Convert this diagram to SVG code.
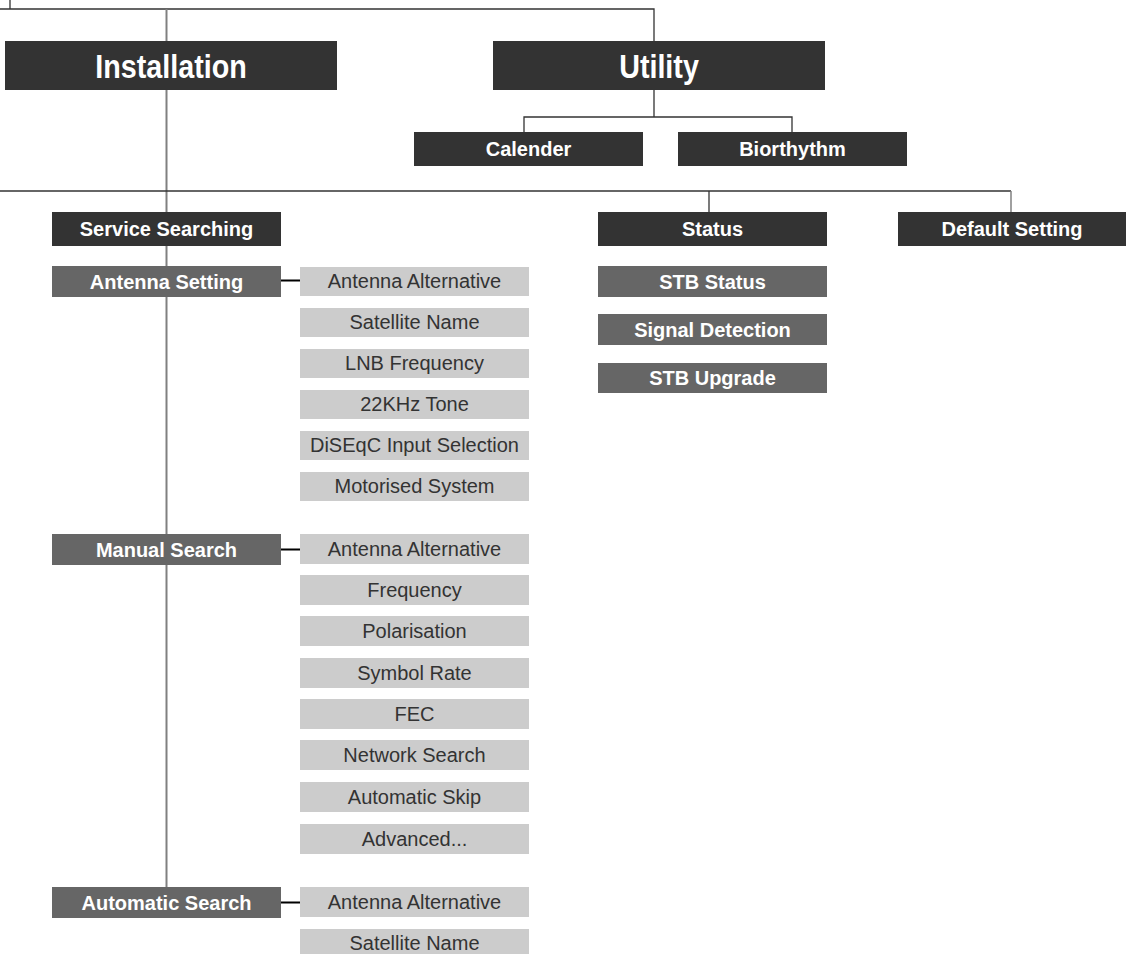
<svg xmlns="http://www.w3.org/2000/svg" width="1126" height="954" viewBox="0 0 1126 954">
<style>
.dk{fill:#333333}
.md{fill:#666666}
.lt{fill:#cccccc}
.hd{font-family:"Liberation Sans",Arial,sans-serif;font-weight:bold;font-size:33px;fill:#ffffff;text-anchor:middle}
.bt{font-family:"Liberation Sans",Arial,sans-serif;font-weight:bold;font-size:20px;fill:#ffffff;text-anchor:middle}
.rt{font-family:"Liberation Sans",Arial,sans-serif;font-size:20px;fill:#333333;text-anchor:middle}
.ln{fill:none;stroke:#333333;stroke-width:1.3}
.gl{fill:none;stroke:#808080;stroke-width:2}
.sc{fill:none;stroke:#000000;stroke-width:2}
</style>
<rect width="1126" height="954" fill="#ffffff"/>
<g id="connectors">
<path class="ln" d="M10,0 V9 M0,9 H654 V41"/>
<path class="gl" d="M166.5,9 V41"/>
<path class="gl" d="M166.5,90 V887"/>
<path class="ln" d="M654,90 V117 M524,132 V117 H792 V132"/>
<path class="ln" d="M0,191 H1011"/>
<path class="ln" d="M709,191 V212"/>
<path class="gl" d="M1011,191 V212" style="stroke-width:1.5"/>
<path class="sc" d="M281,280.5 H300 M281,549.5 H300 M281,902.5 H300"/>
</g>
<g id="installation"><rect class="dk" x="5" y="41" width="332" height="49"/><text class="hd" transform="translate(171,77.5) scale(0.87,1)">Installation</text></g>
<g id="utility"><rect class="dk" x="493" y="41" width="332" height="49"/><text class="hd" transform="translate(659,77.5) scale(0.87,1)">Utility</text></g>
<g id="calender"><rect class="dk" x="414" y="132" width="229" height="34"/><text class="bt" x="528.5" y="156">Calender</text></g>
<g id="biorthythm"><rect class="dk" x="678" y="132" width="229" height="34"/><text class="bt" x="792.5" y="156">Biorthythm</text></g>
<g id="service-searching"><rect class="dk" x="52" y="212" width="229" height="34"/><text class="bt" x="166.5" y="236">Service Searching</text></g>
<g id="status"><rect class="dk" x="598" y="212" width="229" height="34"/><text class="bt" x="712.5" y="236">Status</text></g>
<g id="default-setting"><rect class="dk" x="898" y="212" width="228" height="34"/><text class="bt" x="1012" y="236">Default Setting</text></g>
<g id="antenna-setting"><rect class="md" x="52" y="266" width="229" height="31"/><text class="bt" x="166.5" y="288.5">Antenna Setting</text></g>
<g id="manual-search"><rect class="md" x="52" y="534" width="229" height="31"/><text class="bt" x="166.5" y="556.5">Manual Search</text></g>
<g id="automatic-search"><rect class="md" x="52" y="887" width="229" height="31"/><text class="bt" x="166.5" y="909.5">Automatic Search</text></g>
<g id="stb-status"><rect class="md" x="598" y="266" width="229" height="31"/><text class="bt" x="712.5" y="288.5">STB Status</text></g>
<g id="signal-detection"><rect class="md" x="598" y="314" width="229" height="31"/><text class="bt" x="712.5" y="336.5">Signal Detection</text></g>
<g id="stb-upgrade"><rect class="md" x="598" y="363" width="229" height="30"/><text class="bt" x="712.5" y="385">STB Upgrade</text></g>
<g id="as-antenna-alternative"><rect class="lt" x="300" y="267" width="229" height="29"/><text class="rt" x="414.5" y="288">Antenna Alternative</text></g>
<g id="as-satellite-name"><rect class="lt" x="300" y="308" width="229" height="29"/><text class="rt" x="414.5" y="329">Satellite Name</text></g>
<g id="as-lnb-frequency"><rect class="lt" x="300" y="349" width="229" height="29"/><text class="rt" x="414.5" y="370">LNB Frequency</text></g>
<g id="as-22khz-tone"><rect class="lt" x="300" y="390" width="229" height="29"/><text class="rt" x="414.5" y="411">22KHz Tone</text></g>
<g id="as-diseqc"><rect class="lt" x="300" y="431" width="229" height="29"/><text class="rt" x="414.5" y="452">DiSEqC Input Selection</text></g>
<g id="as-motorised"><rect class="lt" x="300" y="472" width="229" height="29"/><text class="rt" x="414.5" y="493">Motorised System</text></g>
<g id="ms-antenna-alternative"><rect class="lt" x="300" y="534" width="229" height="30"/><text class="rt" x="414.5" y="556">Antenna Alternative</text></g>
<g id="ms-frequency"><rect class="lt" x="300" y="575" width="229" height="30"/><text class="rt" x="414.5" y="597">Frequency</text></g>
<g id="ms-polarisation"><rect class="lt" x="300" y="616" width="229" height="30"/><text class="rt" x="414.5" y="638">Polarisation</text></g>
<g id="ms-symbol-rate"><rect class="lt" x="300" y="658" width="229" height="30"/><text class="rt" x="414.5" y="680">Symbol Rate</text></g>
<g id="ms-fec"><rect class="lt" x="300" y="699" width="229" height="30"/><text class="rt" x="414.5" y="721">FEC</text></g>
<g id="ms-network-search"><rect class="lt" x="300" y="740" width="229" height="30"/><text class="rt" x="414.5" y="762">Network Search</text></g>
<g id="ms-automatic-skip"><rect class="lt" x="300" y="782" width="229" height="30"/><text class="rt" x="414.5" y="804">Automatic Skip</text></g>
<g id="ms-advanced"><rect class="lt" x="300" y="824" width="229" height="30"/><text class="rt" x="414.5" y="846">Advanced...</text></g>
<g id="au-antenna-alternative"><rect class="lt" x="300" y="887" width="229" height="30"/><text class="rt" x="414.5" y="909">Antenna Alternative</text></g>
<g id="au-satellite-name"><rect class="lt" x="300" y="929" width="229" height="29"/><text class="rt" x="414.5" y="950">Satellite Name</text></g>
</svg>
